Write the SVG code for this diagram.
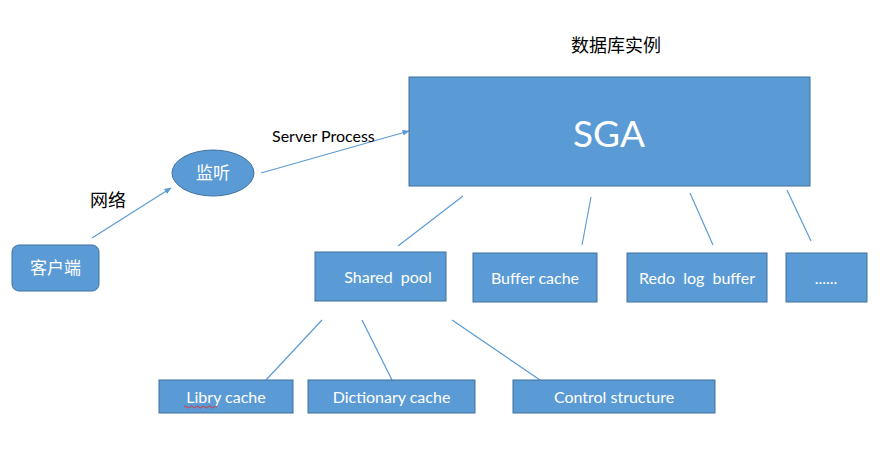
<svg xmlns="http://www.w3.org/2000/svg" width="890" height="466" viewBox="0 0 890 466">
<style>
.box{fill:#5B9BD5;stroke:#41719C;stroke-width:1}
.t{font-family:Lato,"Noto Sans","Noto Sans CJK SC",sans-serif;fill:#fff;text-anchor:middle;font-size:16px}
.k{font-family:"Noto Sans CJK SC",sans-serif;fill:#fff;text-anchor:middle;font-size:17px}
.lbl{font-family:Lato,"Noto Sans","Noto Sans CJK SC",sans-serif;fill:#000;font-size:16px}
.c{stroke:#5B9BD5;stroke-width:1.2;fill:none}
</style>
<defs>
<marker id="ah" viewBox="0 0 10 10" refX="9" refY="5" markerWidth="6" markerHeight="6" orient="auto"><path d="M0,1 L10,5 L0,9 z" fill="#5B9BD5"/></marker>
</defs>
<rect width="890" height="466" fill="#fff"/>
<g id="connectors">
<line class="c" x1="92" y1="238" x2="171" y2="188" marker-end="url(#ah)"/>
<line class="c" x1="261" y1="173" x2="409" y2="131" marker-end="url(#ah)"/>
<line class="c" x1="463" y1="196" x2="398" y2="246"/>
<line class="c" x1="591" y1="197" x2="582" y2="245"/>
<line class="c" x1="690" y1="193" x2="713" y2="245"/>
<line class="c" x1="787" y1="190" x2="811" y2="241"/>
<line class="c" x1="322" y1="320" x2="266" y2="380"/>
<line class="c" x1="362" y1="320" x2="392" y2="380"/>
<line class="c" x1="452" y1="320" x2="540" y2="380"/>
</g>
<text class="lbl" x="90" y="207" style="font-family:'Noto Sans CJK SC',sans-serif;font-size:18px">网络</text>
<text class="lbl" x="272" y="142">Server Process</text>
<text class="lbl" x="571" y="52" style="font-family:'Noto Sans CJK SC',sans-serif;font-size:18px">数据库实例</text>
<g id="client"><rect class="box" x="12" y="245" width="87" height="46" rx="7"/><text class="k" x="55.5" y="274">客户端</text></g>
<g id="listener"><ellipse class="box" cx="213" cy="173" rx="41" ry="23"/><text class="k" x="213" y="179">监听</text></g>
<g id="sga"><rect class="box" x="409" y="77" width="401" height="109"/><text class="t" x="609" y="147" style="font-size:37px">SGA</text></g>
<g id="shared-pool"><rect class="box" x="315" y="252" width="131" height="49"/><text class="t" x="388" y="283" xml:space="preserve">Shared  pool</text></g>
<g id="buffer-cache"><rect class="box" x="473" y="253" width="124" height="49"/><text class="t" x="535" y="284">Buffer cache</text></g>
<g id="redo-log-buffer"><rect class="box" x="627" y="253" width="140" height="49"/><text class="t" x="697" y="284" xml:space="preserve">Redo  log  buffer</text></g>
<g id="more"><rect class="box" x="786" y="253" width="81" height="49"/><text class="t" x="826" y="284">......</text></g>
<g id="libry-cache"><rect class="box" x="159" y="380" width="134" height="33"/><text class="t" x="226" y="403">Libry cache</text><path d="M184,407 q1.5,-2 3,0 t3,0 t3,0 t3,0 t3,0 t3,0 t3,0 t3,0 t3,0 t3,0 t3,0" stroke="#E03030" stroke-width="1" fill="none"/></g>
<g id="dictionary-cache"><rect class="box" x="308" y="380" width="167" height="33"/><text class="t" x="391.5" y="403">Dictionary cache</text></g>
<g id="control-structure"><rect class="box" x="513" y="380" width="202" height="33"/><text class="t" x="614" y="403">Control structure</text></g>
</svg>
